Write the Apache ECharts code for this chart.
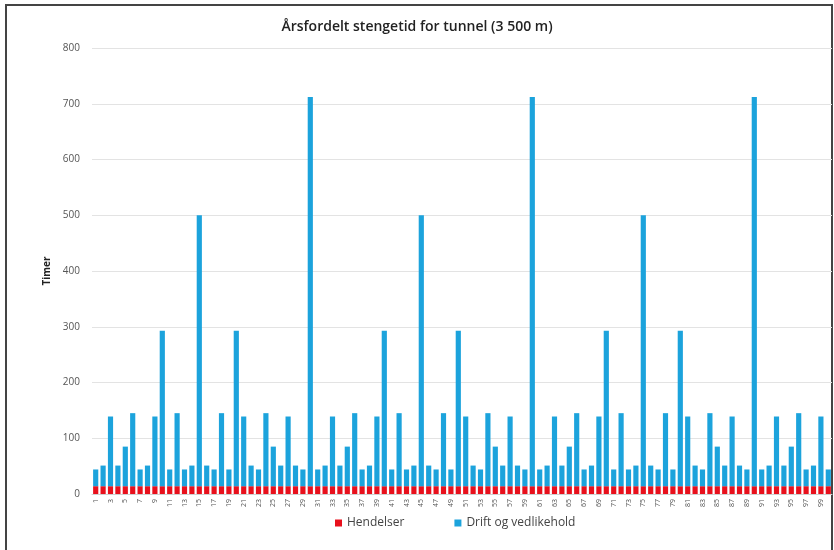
<!DOCTYPE html>
<html>
<head>
<meta charset="utf-8">
<script src="https://cdn.jsdelivr.net/npm/echarts@6/dist/echarts.min.js"></script>
<style>
  html, body { margin: 0; padding: 0; background: #fff; }
  #chart { width: 834px; height: 550px; }
</style>
</head>
<body>
<div id="chart"></div>
<script>
// år 1..100
const years = []
for (let i = 1; i <= 100; i++) years.push(String(i))

// Hendelser (timer per år)
const hendelser = [
  14,14,14,14,14,14,14,14,14,14, 14,14,14,14,14,14,14,14,14,14, 14,14,14,14,14,14,14,14,14,14,
  14,14,14,14,14,14,14,14,14,14, 14,14,14,14,14,14,14,14,14,14, 14,14,14,14,14,14,14,14,14,14,
  14,14,14,14,14,14,14,14,14,14, 14,14,14,14,14,14,14,14,14,14, 14,14,14,14,14,14,14,14,14,14,
  14,14,14,14,14,14,14,14,14,14
]

// Drift og vedlikehold (timer per år)
const drift = [
  30,37,125,37,71,131,30,37,125,279, 30,131,30,37,486,37,30,131,30,279, 125,37,30,131,71,37,125,37,30,698,
  30,37,125,37,71,131,30,37,125,279, 30,131,30,37,486,37,30,131,30,279, 125,37,30,131,71,37,125,37,30,698,
  30,37,125,37,71,131,30,37,125,279, 30,131,30,37,486,37,30,131,30,279, 125,37,30,131,71,37,125,37,30,698,
  30,37,125,37,71,131,30,37,125,30
]

const myChart = echarts.init(document.getElementById('chart'))

const option = {
    animation: false,
    textStyle: { fontFamily: 'Open Sans' },
    title: {
        text: 'Årsfordelt stengetid for tunnel (3 500 m)',
        left: 'center',
        top: 15,
        textStyle: { fontSize: 14, fontWeight: 600, color: '#222', fontFamily: 'Open Sans' }
    },
    graphic: [{ //ramme
        type: 'rect',
        shape: { x: 6, y: 5, width: 826, height: 560 },
        style: { fill: 'none', stroke: '#444', lineWidth: 2 },
        silent: true
    }],
    legend: {
        bottom: 16,
        left: 330,
        itemWidth: 7,
        itemHeight: 7,
        itemGap: 50,
        icon: 'rect',
        textStyle: { fontSize: 12, color: '#444' },
        data: ['Hendelser', 'Drift og vedlikehold']
    },
    grid: { left: 92, right: 2, top: 48, bottom: 56, containLabel: false },
    xAxis: {
        type: 'category',
        data: years,
        axisTick: { show: false },
        axisLine: { lineStyle: { color: '#d0d0d0' } },
        axisLabel: { interval: 1, rotate: 90, fontSize: 7, color: '#555', margin: 5 }
    },
    yAxis: {
        type: 'value',
        min: 0,
        max: 800,
        interval: 100,
        name: 'Timer',
        nameLocation: 'middle',
        nameGap: 40,
        nameMoveOverlap: false,
        nameTextStyle: { fontSize: 10, fontWeight: 'bold', color: '#222' },
        axisLabel: { fontSize: 10, color: '#555', margin: 12 },
        splitLine: { lineStyle: { color: '#e3e3e3' } }
    },
    series: [
        {
            name: 'Hendelser',
            type: 'bar',
            stack: 'tot',
            barCategoryGap: '30%',
            itemStyle: { color: '#e8101c' },
            data: hendelser
        },
        {
            name: 'Drift og vedlikehold',
            type: 'bar',
            stack: 'tot',
            barCategoryGap: '30%',
            itemStyle: { color: '#1ca3dc' },
            data: drift
        }
    ]
}

option && myChart.setOption(option, true)
</script>
</body>
</html>
